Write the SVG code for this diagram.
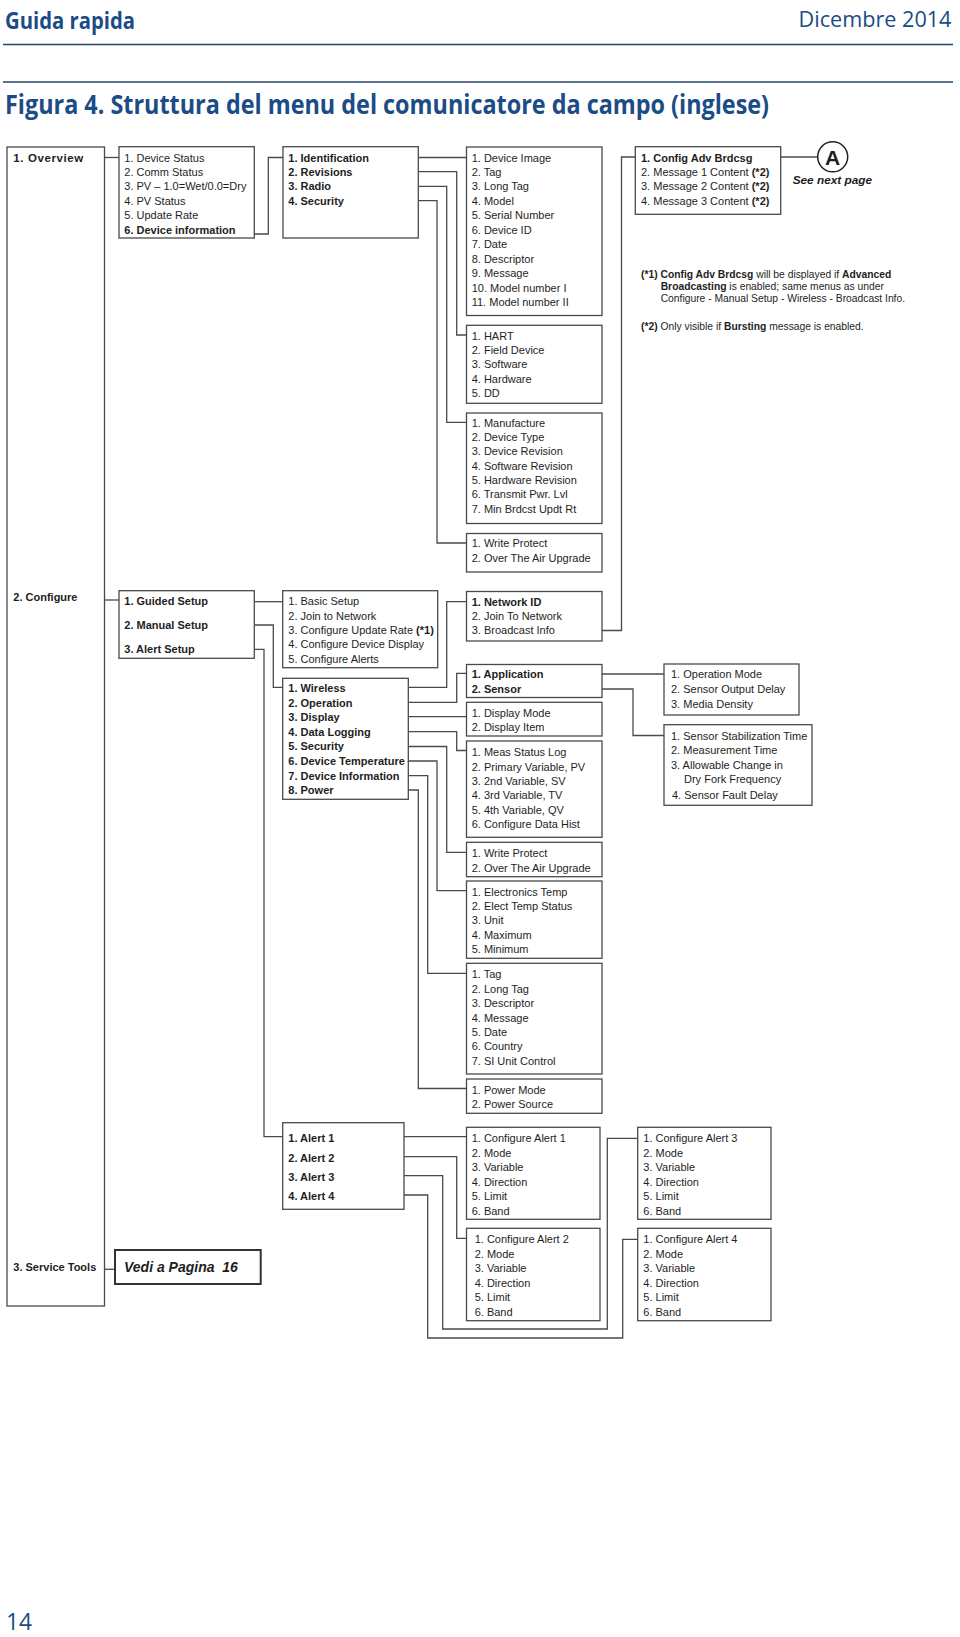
<svg xmlns="http://www.w3.org/2000/svg" width="960" height="1637" viewBox="0 0 960 1637">
<style>
.bg{fill:#fff}
.box{fill:#fff;stroke:#4a4a4a;stroke-width:1.3}
.vb{fill:#fff;stroke:#333;stroke-width:2}
.t{font-family:"Liberation Sans",Arial,sans-serif;font-size:11px;fill:#1e1e1e}
.b{font-weight:bold}
.n{font-family:"Liberation Sans",Arial,sans-serif;font-size:10.3px;fill:#1e1e1e}
.hd{font-family:"Open Sans","Noto Sans",sans-serif;fill:#1b4c86}
.conn path{fill:none;stroke:#4a4a4a;stroke-width:1.3}
.rule{stroke:#23446b;stroke-width:1.4}
</style>
<rect class="bg" x="0" y="0" width="960" height="1637"/>
<g id="header">
<text class="hd" x="5" y="28.5" style="font-size:23px;font-weight:700" textLength="130" lengthAdjust="spacingAndGlyphs">Guida rapida</text>
<text class="hd" x="951.5" y="27" style="font-size:21px" text-anchor="end" textLength="153" lengthAdjust="spacingAndGlyphs">Dicembre 2014</text>
<line class="rule" x1="3" y1="44.5" x2="953" y2="44.5"/>
<line class="rule" x1="3" y1="82" x2="953" y2="82"/>
<text class="hd" x="5" y="113.5" style="font-size:26px;font-weight:700" textLength="764" lengthAdjust="spacingAndGlyphs">Figura 4.  Struttura del menu del comunicatore da campo (inglese)</text>
<text class="hd" x="6" y="1630" style="font-size:23px" textLength="26" lengthAdjust="spacingAndGlyphs">14</text>
</g>
<g class="conn" id="connectors">
<path d="M104.5,157.5H119"/>
<path d="M254.3,234H268.3V157.5H283"/>
<path d="M418.3,157.5H466.5"/>
<path d="M418.3,171.7H456.7V335H466.5"/>
<path d="M418.3,186.3H446.7V422.3H466.5"/>
<path d="M418.3,200.7H437V543H466.5"/>
<path d="M602,630.5H621.5V157H635.3"/>
<path d="M780.7,157H817.7"/>
<path d="M104.5,600H119"/>
<path d="M254.3,601.7H282.7"/>
<path d="M254.3,625H273.3V687.3H282.7"/>
<path d="M254.3,649.3H264V1136.7H282.7"/>
<path d="M408.3,687.3H446.7V601.7H466.5"/>
<path d="M408.3,702.3H456.7V673.3H466.5"/>
<path d="M408.3,716.7H466.5"/>
<path d="M408.3,731.7H456.7V750.5H466.5"/>
<path d="M408.3,746.5H446.7V852.3H466.5"/>
<path d="M408.3,761H437V890.7H466.5"/>
<path d="M408.3,775.7H427.7V973.3H466.5"/>
<path d="M408.3,790H418.3V1088.5H466.5"/>
<path d="M602,674H664"/>
<path d="M602,689H633V735.5H664"/>
<path d="M404,1136.7H466.5"/>
<path d="M404,1156.7H456.7V1238.3H466.5"/>
<path d="M404,1175.7H442.7V1329H607.3V1138.3H637.7"/>
<path d="M404,1195H427.7V1338H622.7V1239.3H637.7"/>
<path d="M104.5,1269.3H115"/>
</g>
<g id="overview">
<rect class="box" x="7" y="147" width="97.5" height="1159"/>
<text class="t b" x="13.3" y="161.7" style="font-size:11.5px;letter-spacing:0.6px">1. Overview</text>
<text class="t b" x="13.3" y="600.7">2. Configure</text>
<text class="t b" x="13.3" y="1271.3">3. Service Tools</text>
</g>
<g id="device-status">
<rect class="box" x="119" y="146.7" width="135.3" height="91.3"/>
<text class="t" x="124.3" y="161.5">1. Device Status</text>
<text class="t" x="124.3" y="175.9">2. Comm Status</text>
<text class="t" x="124.3" y="190.4">3. PV – 1.0=Wet/0.0=Dry</text>
<text class="t" x="124.3" y="204.8">4. PV Status</text>
<text class="t" x="124.3" y="219.3">5. Update Rate</text>
<text class="t b" x="124.3" y="233.7">6. Device information</text>
</g>
<g id="identification">
<rect class="box" x="283" y="146.7" width="135.3" height="91.3"/>
<text class="t b" x="288.3" y="161.5">1. Identification</text>
<text class="t b" x="288.3" y="175.9">2. Revisions</text>
<text class="t b" x="288.3" y="190.4">3. Radio</text>
<text class="t b" x="288.3" y="204.8">4. Security</text>
</g>
<g id="device-image">
<rect class="box" x="466.5" y="147" width="135.5" height="168.5"/>
<text class="t" x="471.7" y="161.5">1. Device Image</text>
<text class="t" x="471.7" y="175.9">2. Tag</text>
<text class="t" x="471.7" y="190.4">3. Long Tag</text>
<text class="t" x="471.7" y="204.8">4. Model</text>
<text class="t" x="471.7" y="219.3">5. Serial Number</text>
<text class="t" x="471.7" y="233.7">6. Device ID</text>
<text class="t" x="471.7" y="248.2">7. Date</text>
<text class="t" x="471.7" y="262.6">8. Descriptor</text>
<text class="t" x="471.7" y="277.1">9. Message</text>
<text class="t" x="471.7" y="291.5">10. Model number I</text>
<text class="t" x="471.7" y="306">11. Model number II</text>
</g>
<g id="hart">
<rect class="box" x="466.5" y="325.3" width="135.5" height="78"/>
<text class="t" x="471.7" y="339.5">1. HART</text>
<text class="t" x="471.7" y="353.9">2. Field Device</text>
<text class="t" x="471.7" y="368.3">3. Software</text>
<text class="t" x="471.7" y="382.7">4. Hardware</text>
<text class="t" x="471.7" y="397.1">5. DD</text>
</g>
<g id="manufacture">
<rect class="box" x="466.5" y="413" width="135.5" height="110.5"/>
<text class="t" x="471.7" y="426.5">1. Manufacture</text>
<text class="t" x="471.7" y="440.9">2. Device Type</text>
<text class="t" x="471.7" y="455.2">3. Device Revision</text>
<text class="t" x="471.7" y="469.6">4. Software Revision</text>
<text class="t" x="471.7" y="483.9">5. Hardware Revision</text>
<text class="t" x="471.7" y="498.3">6. Transmit Pwr. Lvl</text>
<text class="t" x="471.7" y="512.6">7. Min Brdcst Updt Rt</text>
</g>
<g id="write-protect-1">
<rect class="box" x="466.5" y="533.5" width="135.5" height="38.5"/>
<text class="t" x="471.7" y="547.2">1. Write Protect</text>
<text class="t" x="471.7" y="561.5">2. Over The Air Upgrade</text>
</g>
<g id="config-adv">
<rect class="box" x="635.3" y="146.7" width="145.4" height="67.6"/>
<text class="t b" x="641" y="161.5">1. Config Adv Brdcsg</text>
<text class="t" x="641" y="175.9">2. Message 1 Content <tspan class="b">(*2)</tspan></text>
<text class="t" x="641" y="190.4">3. Message 2 Content <tspan class="b">(*2)</tspan></text>
<text class="t" x="641" y="204.8">4. Message 3 Content <tspan class="b">(*2)</tspan></text>
</g>
<g id="ref-a">
<circle cx="832.7" cy="156.8" r="15" fill="#fff" stroke="#222" stroke-width="1.5"/>
<text class="t b" x="832.7" y="164.5" style="font-size:21px" text-anchor="middle">A</text>
<text class="t b" x="792.7" y="184.3" style="font-size:11.8px;font-style:italic">See next page</text>
</g>
<g id="notes">
<text class="n" x="641" y="277.5"><tspan class="b">(*1) Config Adv Brdcsg</tspan> will be displayed if <tspan class="b">Advanced</tspan></text>
<text class="n" x="660.7" y="289.5"><tspan class="b">Broadcasting</tspan> is enabled; same menus as under</text>
<text class="n" x="660.7" y="301.5">Configure - Manual Setup - Wireless - Broadcast Info.</text>
<text class="n" x="641" y="329.5"><tspan class="b">(*2)</tspan> Only visible if <tspan class="b">Bursting</tspan> message is enabled.</text>
</g>
<g id="guided">
<rect class="box" x="119" y="590.7" width="135.3" height="67.6"/>
<text class="t b" x="124.3" y="604.7">1. Guided Setup</text>
<text class="t b" x="124.3" y="628.5">2. Manual Setup</text>
<text class="t b" x="124.3" y="653">3. Alert Setup</text>
</g>
<g id="basic-setup">
<rect class="box" x="282.7" y="590.7" width="155" height="77"/>
<text class="t" x="288.3" y="605">1. Basic Setup</text>
<text class="t" x="288.3" y="619.5">2. Join to Network</text>
<text class="t" x="288.3" y="633.9">3. Configure Update Rate <tspan class="b">(*1)</tspan></text>
<text class="t" x="288.3" y="648.4">4. Configure Device Display</text>
<text class="t" x="288.3" y="662.8">5. Configure Alerts</text>
</g>
<g id="wireless">
<rect class="box" x="282.7" y="678.3" width="125.6" height="121"/>
<text class="t b" x="288.3" y="692">1. Wireless</text>
<text class="t b" x="288.3" y="706.6">2. Operation</text>
<text class="t b" x="288.3" y="721.2">3. Display</text>
<text class="t b" x="288.3" y="735.8">4. Data Logging</text>
<text class="t b" x="288.3" y="750.4">5. Security</text>
<text class="t b" x="288.3" y="765">6. Device Temperature</text>
<text class="t b" x="288.3" y="779.6">7. Device Information</text>
<text class="t b" x="288.3" y="794.2">8. Power</text>
</g>
<g id="network-id">
<rect class="box" x="466.5" y="591.5" width="135.5" height="49.5"/>
<text class="t b" x="471.7" y="605.5">1. Network ID</text>
<text class="t" x="471.7" y="620">2. Join To Network</text>
<text class="t" x="471.7" y="634.4">3. Broadcast Info</text>
</g>
<g id="application">
<rect class="box" x="466.5" y="664.5" width="135.5" height="33"/>
<text class="t b" x="471.7" y="678">1. Application</text>
<text class="t b" x="471.7" y="692.5">2. Sensor</text>
</g>
<g id="display-mode">
<rect class="box" x="466.5" y="702.3" width="135.5" height="33.7"/>
<text class="t" x="471.7" y="717">1. Display Mode</text>
<text class="t" x="471.7" y="731">2. Display Item</text>
</g>
<g id="meas-status">
<rect class="box" x="466.5" y="741" width="135.5" height="96.3"/>
<text class="t" x="471.7" y="756.3">1. Meas Status Log</text>
<text class="t" x="471.7" y="770.6">2. Primary Variable, PV</text>
<text class="t" x="471.7" y="785">3. 2nd Variable, SV</text>
<text class="t" x="471.7" y="799.4">4. 3rd Variable, TV</text>
<text class="t" x="471.7" y="813.7">5. 4th Variable, QV</text>
<text class="t" x="471.7" y="828">6. Configure Data Hist</text>
</g>
<g id="write-protect-2">
<rect class="box" x="466.5" y="842.3" width="135.5" height="34.4"/>
<text class="t" x="471.7" y="857.3">1. Write Protect</text>
<text class="t" x="471.7" y="871.7">2. Over The Air Upgrade</text>
</g>
<g id="electronics-temp">
<rect class="box" x="466.5" y="881" width="135.5" height="77.3"/>
<text class="t" x="471.7" y="895.5">1. Electronics Temp</text>
<text class="t" x="471.7" y="910">2. Elect Temp Status</text>
<text class="t" x="471.7" y="924.4">3. Unit</text>
<text class="t" x="471.7" y="938.9">4. Maximum</text>
<text class="t" x="471.7" y="953.3">5. Minimum</text>
</g>
<g id="tag">
<rect class="box" x="466.5" y="963.3" width="135.5" height="110.7"/>
<text class="t" x="471.7" y="978.3">1. Tag</text>
<text class="t" x="471.7" y="992.7">2. Long Tag</text>
<text class="t" x="471.7" y="1007.1">3. Descriptor</text>
<text class="t" x="471.7" y="1021.5">4. Message</text>
<text class="t" x="471.7" y="1035.9">5. Date</text>
<text class="t" x="471.7" y="1050.3">6. Country</text>
<text class="t" x="471.7" y="1064.7">7. SI Unit Control</text>
</g>
<g id="power">
<rect class="box" x="466.5" y="1079" width="135.5" height="34.3"/>
<text class="t" x="471.7" y="1094">1. Power Mode</text>
<text class="t" x="471.7" y="1108.3">2. Power Source</text>
</g>
<g id="operation-mode">
<rect class="box" x="664" y="664" width="135" height="51"/>
<text class="t" x="671" y="678.3">1. Operation Mode</text>
<text class="t" x="671" y="693">2. Sensor Output Delay</text>
<text class="t" x="671" y="707.7">3. Media Density</text>
</g>
<g id="sensor-stabilization">
<rect class="box" x="664" y="724.7" width="148" height="80.6"/>
<text class="t" x="671" y="739.7">1. Sensor Stabilization Time</text>
<text class="t" x="671" y="754">2. Measurement Time</text>
<text class="t" x="671" y="768.7">3. Allowable Change in</text>
<text class="t" x="684" y="783">Dry Fork Frequency</text>
<text class="t" x="672" y="799">4. Sensor Fault Delay</text>
</g>
<g id="alert">
<rect class="box" x="282.7" y="1122.7" width="121.3" height="86.6"/>
<text class="t b" x="288.3" y="1142.3">1. Alert 1</text>
<text class="t b" x="288.3" y="1161.7">2. Alert 2</text>
<text class="t b" x="288.3" y="1180.7">3. Alert 3</text>
<text class="t b" x="288.3" y="1200">4. Alert 4</text>
</g>
<g id="configure-alert-1">
<rect class="box" x="466.5" y="1127.3" width="133.5" height="92"/>
<text class="t" x="471.7" y="1142.3">1. Configure Alert 1</text>
<text class="t" x="471.7" y="1156.7">2. Mode</text>
<text class="t" x="471.7" y="1171.2">3. Variable</text>
<text class="t" x="471.7" y="1185.6">4. Direction</text>
<text class="t" x="471.7" y="1200.1">5. Limit</text>
<text class="t" x="471.7" y="1214.5">6. Band</text>
</g>
<g id="configure-alert-2">
<rect class="box" x="466.5" y="1228.3" width="133.5" height="92.4"/>
<text class="t" x="474.7" y="1243.3">1. Configure Alert 2</text>
<text class="t" x="474.7" y="1257.7">2. Mode</text>
<text class="t" x="474.7" y="1272.2">3. Variable</text>
<text class="t" x="474.7" y="1286.6">4. Direction</text>
<text class="t" x="474.7" y="1301.1">5. Limit</text>
<text class="t" x="474.7" y="1315.5">6. Band</text>
</g>
<g id="configure-alert-3">
<rect class="box" x="637.7" y="1127.3" width="133.3" height="92"/>
<text class="t" x="643.3" y="1142.3">1. Configure Alert 3</text>
<text class="t" x="643.3" y="1156.7">2. Mode</text>
<text class="t" x="643.3" y="1171.2">3. Variable</text>
<text class="t" x="643.3" y="1185.6">4. Direction</text>
<text class="t" x="643.3" y="1200.1">5. Limit</text>
<text class="t" x="643.3" y="1214.5">6. Band</text>
</g>
<g id="configure-alert-4">
<rect class="box" x="637.7" y="1228.3" width="133.3" height="92.4"/>
<text class="t" x="643.3" y="1243.3">1. Configure Alert 4</text>
<text class="t" x="643.3" y="1257.7">2. Mode</text>
<text class="t" x="643.3" y="1272.2">3. Variable</text>
<text class="t" x="643.3" y="1286.6">4. Direction</text>
<text class="t" x="643.3" y="1301.1">5. Limit</text>
<text class="t" x="643.3" y="1315.5">6. Band</text>
</g>
<g id="vedi">
<rect class="vb" x="115" y="1250" width="145.7" height="34"/>
<text class="t b" x="124" y="1271.5" style="font-size:14px;font-style:italic" xml:space="preserve">Vedi a Pagina  16</text>
</g>
</svg>
